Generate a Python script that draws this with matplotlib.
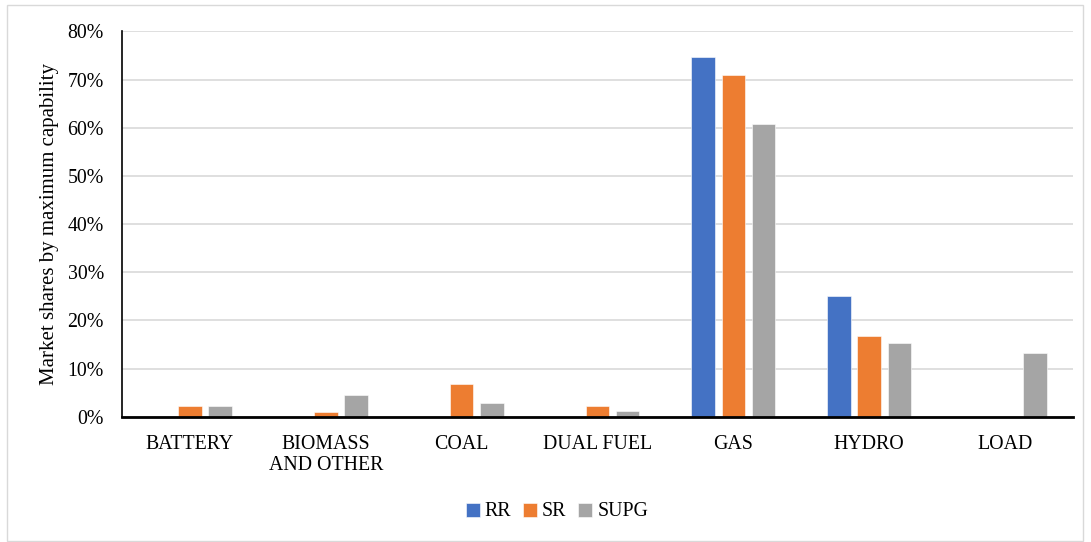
import numpy as np
import matplotlib.pyplot as plt
from matplotlib.patches import Rectangle
from matplotlib.ticker import PercentFormatter

categories = ["BATTERY", "BIOMASS\nAND OTHER", "COAL", "DUAL FUEL", "GAS", "HYDRO", "LOAD"]
rr = [0.0, 0.0, 0.0, 0.0, 74.8, 25.1, 0.0]
sr = [2.2, 0.9, 6.8, 2.2, 71.0, 16.8, 0.0]
supg = [2.2, 4.5, 2.8, 1.1, 60.7, 15.4, 13.2]

series = [("RR", rr, "#4472C4"), ("SR", sr, "#ED7D31"), ("SUPG", supg, "#A5A5A5")]

plt.rcParams['font.family'] = ['Liberation Serif', 'DejaVu Serif']
fs = 14.3

fig = plt.figure(figsize=(10.91, 5.42), dpi=100)
ax = fig.add_axes([122 / 1091, 1 - 416.7 / 542, (1073 - 122) / 1091, (416.7 - 31.5) / 542])

x = np.arange(len(categories))
width = 0.173
step = 0.222
for i, (name, vals, color) in enumerate(series):
    ax.bar(x + (i - 1) * step, vals, width, color=color, label=name,
           edgecolor="white", linewidth=0.4, zorder=3)

ax.set_xlim(-0.5, len(categories) - 0.5)
ax.set_ylim(0, 80)
ax.set_yticks(np.arange(0, 81, 10))
ax.yaxis.set_major_formatter(PercentFormatter(decimals=0))
ax.set_xticks(x)
ax.set_xticklabels(categories, fontsize=fs, linespacing=1.15)
ax.tick_params(axis="y", length=0, pad=13, labelsize=fs)
ax.tick_params(axis="x", length=0, pad=13)
ax.grid(axis="y", color="#D9D9D9", linewidth=1.2, zorder=0)

for s in ["top", "right"]:
    ax.spines[s].set_visible(False)
ax.spines["left"].set_color("black")
ax.spines["left"].set_linewidth(1.2)
ax.spines["bottom"].set_color("black")
ax.spines["bottom"].set_linewidth(2.0)
ax.spines["bottom"].set_zorder(4)

ax.set_ylabel("Market shares by maximum capability", fontsize=fs + 0.7, labelpad=6)

fig.legend(loc="center", bbox_to_anchor=(557 / 1091, 1 - 512 / 542), ncol=3,
           frameon=False, fontsize=fs, handlelength=0.7, handleheight=0.7,
           handletextpad=0.25, columnspacing=0.6)

# light frame around the whole chart
fig.patches.append(Rectangle((7 / 1091, 0.002), 1076 / 1091, 1 - 5 / 542 - 0.002,
                             transform=fig.transFigure, fill=False,
                             edgecolor="#D9D9D9", linewidth=1.0))

fig.savefig("out.png", dpi=100)
